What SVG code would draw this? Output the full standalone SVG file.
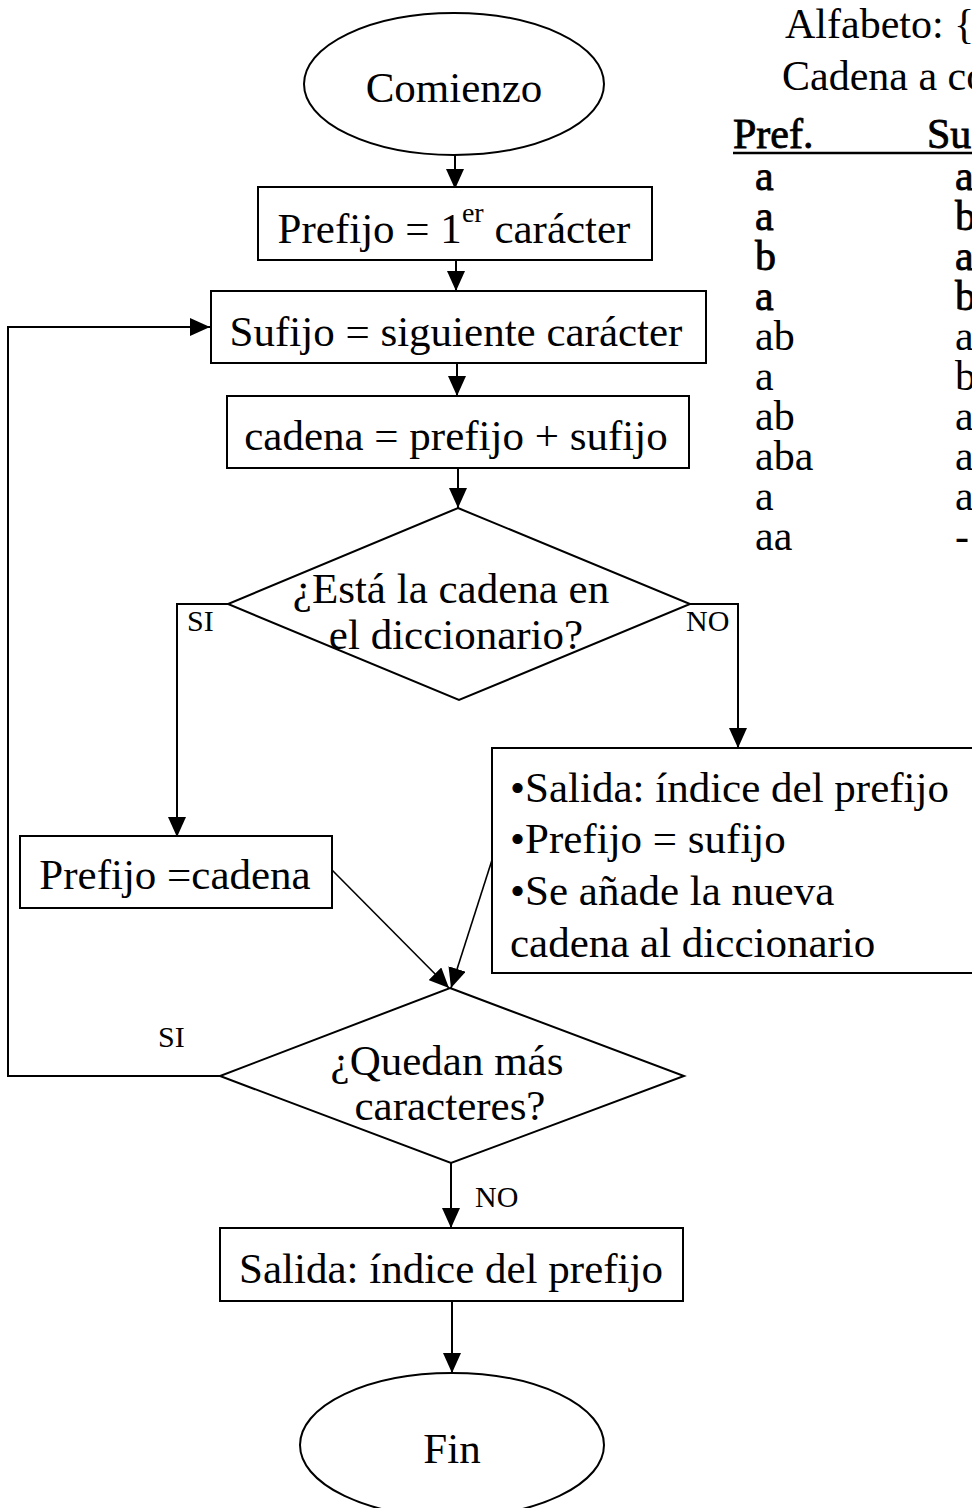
<svg xmlns="http://www.w3.org/2000/svg" width="972" height="1508" viewBox="0 0 972 1508">
  <style>
    .shape { fill: #ffffff; stroke: #000000; stroke-width: 2; }
    .conn { fill: none; stroke: #000000; stroke-width: 2; }
    .diag { fill: none; stroke: #000000; stroke-width: 1.6; }
    .t { font-family: "Liberation Serif", "Times New Roman", serif; font-size: 43px; fill: #000000; }
    .tm { text-anchor: middle; }
    .lbl { font-family: "Liberation Serif", "Times New Roman", serif; font-size: 30px; fill: #000000; }
    .tab { font-family: "Liberation Serif", "Times New Roman", serif; font-size: 42px; fill: #000000; }
    .heavy { stroke: #000000; stroke-width: 0.8; }
  </style>
  <defs>
    <marker id="arrow" markerUnits="userSpaceOnUse" viewBox="0 0 20 18" markerWidth="20" markerHeight="18" refX="20" refY="9" orient="auto">
      <path d="M0,0 L20,9 L0,18 z" fill="#000000"/>
    </marker>
  </defs>
  <rect x="0" y="0" width="972" height="1508" fill="#ffffff"/>

  <g id="connectors">
    <line class="conn" x1="455" y1="155" x2="455" y2="189" marker-end="url(#arrow)"/>
    <line class="conn" x1="456" y1="260" x2="456" y2="291" marker-end="url(#arrow)"/>
    <line class="conn" x1="457" y1="363" x2="457" y2="396" marker-end="url(#arrow)"/>
    <line class="conn" x1="458" y1="468" x2="458" y2="508" marker-end="url(#arrow)"/>
    <path class="conn" d="M228,604 L177,604 L177,837" marker-end="url(#arrow)"/>
    <path class="conn" d="M690,604 L738,604 L738,748" marker-end="url(#arrow)"/>
    <line class="diag" x1="332" y1="870" x2="449" y2="988" marker-end="url(#arrow)"/>
    <line class="diag" x1="492" y1="860" x2="451" y2="988" marker-end="url(#arrow)"/>
    <path class="conn" d="M220,1076 L8,1076 L8,327 L210,327" marker-end="url(#arrow)"/>
    <line class="conn" x1="451" y1="1163" x2="451" y2="1228" marker-end="url(#arrow)"/>
    <line class="conn" x1="452" y1="1301" x2="452" y2="1373" marker-end="url(#arrow)"/>
    <text class="lbl" x="187" y="631">SI</text>
    <text class="lbl" x="686" y="631">NO</text>
    <text class="lbl" x="158" y="1047">SI</text>
    <text class="lbl" x="475" y="1207">NO</text>
  </g>

  <g id="start">
    <ellipse class="shape" cx="454" cy="84" rx="150" ry="71"/>
    <text class="t tm" x="454" y="102">Comienzo</text>
  </g>

  <g id="prefijo-inicial">
    <rect class="shape" x="258" y="187" width="394" height="73"/>
    <text class="t tm" x="454" y="243">Prefijo = 1<tspan font-size="28" dy="-21">er</tspan><tspan dy="21"> carácter</tspan></text>
  </g>

  <g id="sufijo">
    <rect class="shape" x="211" y="291" width="495" height="72"/>
    <text class="t tm" x="456" y="346">Sufijo = siguiente carácter</text>
  </g>

  <g id="cadena">
    <rect class="shape" x="227" y="396" width="462" height="72"/>
    <text class="t tm" x="456" y="450">cadena = prefijo + sufijo</text>
  </g>

  <g id="decision-diccionario">
    <polygon class="shape" points="458,508 690,604 459,700 228,604"/>
    <text class="t tm" x="451" y="603">¿Está la cadena en</text>
    <text class="t tm" x="456" y="649">el diccionario?</text>
  </g>

  <g id="prefijo-cadena">
    <rect class="shape" x="20" y="836" width="312" height="72"/>
    <text class="t tm" x="175" y="889">Prefijo =cadena</text>
  </g>

  <g id="salida-nueva">
    <rect class="shape" x="492" y="748" width="500" height="225"/>
    <text class="t" x="510" y="802">•Salida: índice del prefijo</text>
    <text class="t" x="510" y="853">•Prefijo = sufijo</text>
    <text class="t" x="510" y="905">•Se añade la nueva</text>
    <text class="t" x="510" y="957">cadena al diccionario</text>
  </g>

  <g id="decision-quedan">
    <polygon class="shape" points="450,988 684,1076 451,1163 220,1076"/>
    <text class="t tm" x="447" y="1075">¿Quedan más</text>
    <text class="t tm" x="450" y="1120">caracteres?</text>
  </g>

  <g id="salida-final">
    <rect class="shape" x="220" y="1228" width="463" height="73"/>
    <text class="t tm" x="451" y="1283">Salida: índice del prefijo</text>
  </g>

  <g id="end">
    <ellipse class="shape" cx="452" cy="1445" rx="152" ry="72"/>
    <text class="t tm" x="452" y="1463">Fin</text>
  </g>

  <g id="tabla">
    <text class="tab" x="785" y="38">Alfabeto: {</text>
    <text class="tab" x="782" y="90">Cadena a co</text>
    <text class="tab heavy" x="733" y="148">Pref.</text>
    <text class="tab heavy" x="927" y="148">Su</text>
    <line x1="733" y1="153" x2="972" y2="153" stroke="#000000" stroke-width="2.5"/>
    <text class="tab heavy" x="755" y="190">a</text>
    <text class="tab heavy" x="955" y="190">a</text>
    <text class="tab heavy" x="755" y="230">a</text>
    <text class="tab heavy" x="955" y="230">b</text>
    <text class="tab heavy" x="755" y="270">b</text>
    <text class="tab heavy" x="955" y="270">a</text>
    <text class="tab heavy" x="755" y="310">a</text>
    <text class="tab heavy" x="955" y="310">b</text>
    <text class="tab" x="755" y="350">ab</text>
    <text class="tab" x="955" y="350">a</text>
    <text class="tab" x="755" y="390">a</text>
    <text class="tab" x="955" y="390">b</text>
    <text class="tab" x="755" y="430">ab</text>
    <text class="tab" x="955" y="430">a</text>
    <text class="tab" x="755" y="470">aba</text>
    <text class="tab" x="955" y="470">a</text>
    <text class="tab" x="755" y="510">a</text>
    <text class="tab" x="955" y="510">a</text>
    <text class="tab" x="755" y="550">aa</text>
    <text class="tab" x="955" y="550">-</text>
  </g>
</svg>
